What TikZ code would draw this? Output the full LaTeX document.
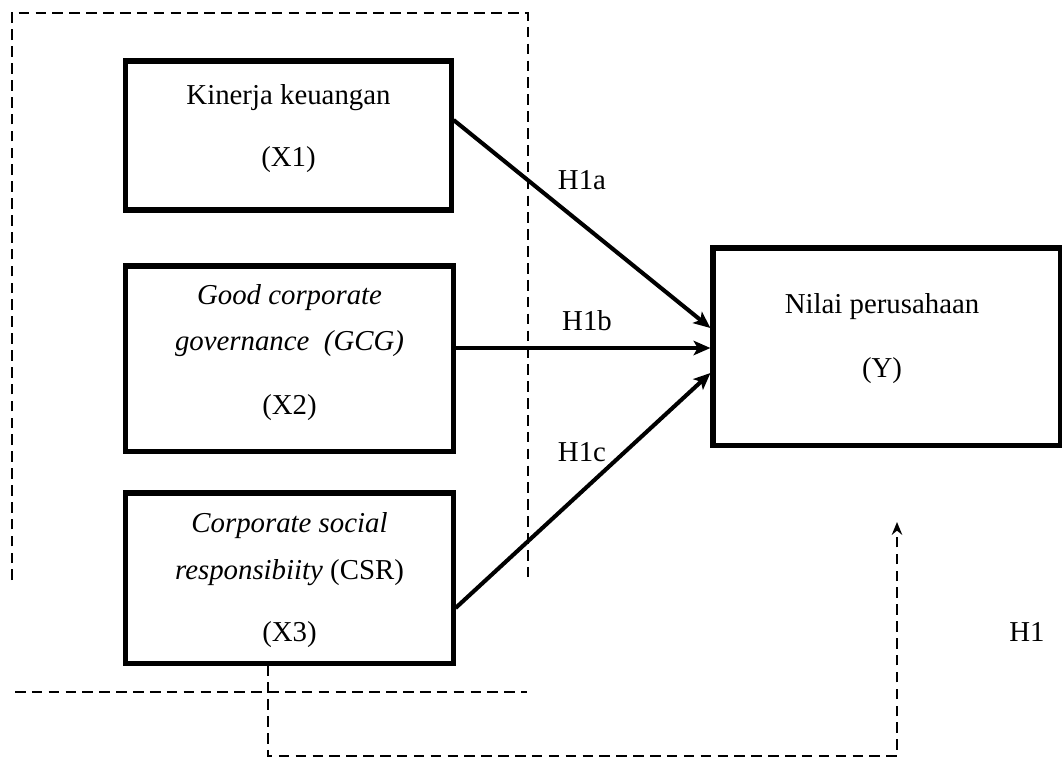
\documentclass[tikz,border=0pt]{standalone}
\usepackage{fontspec}
\setmainfont{Liberation Serif}
\usepackage{tikz}
\usetikzlibrary{arrows.meta}

\begin{document}
\begin{tikzpicture}[x=0.025cm, y=-0.025cm,
        varbox/.style={draw, line width=3.6pt, inner sep=0pt},
        txt/.style={font=\fontsize{20.5}{24}\selectfont, inner sep=0pt, anchor=base},
        hyp/.style={-{Stealth[length=0.42cm, width=0.36cm, inset=0.1cm]}, line width=2.9pt},
        dashline/.style={line width=1.7pt, dash pattern=on 7.5pt off 4.5pt}]
        \useasboundingbox (0, 0) rectangle (1062, 758);
        % Dashed frame
        \draw [dashline] (12, 580) -- (12, 13) -- (528, 13) -- (528, 580);
        \draw [dashline] (15, 692) -- (527, 692);
        % Boxes
        \node [varbox, minimum width=8.125cm, minimum height=3.725cm] (x1) at (288.5, 135.5) {};
        \node [varbox, minimum width=8.175cm, minimum height=4.625cm] (x2) at (289.5, 358.5) {};
        \node [varbox, minimum width=8.175cm, minimum height=4.25cm] (x3) at (289.5, 578) {};
        \node [varbox, minimum width=8.675cm, minimum height=4.925cm] (y) at (886.5, 346.5) {};
        % Texts
        \node [txt] (x1name) at (288.5, 104) {Kinerja keuangan};
        \node [txt] (x1code) at (288.5, 166) {(X1)};
        \node [txt] (x2name) at (289.5, 304) {\textit{Good corporate}};
        \node [txt] (x2sub) at (289.5, 350) {\textit{governance\ \ (GCG)}};
        \node [txt] (x2code) at (289.5, 414) {(X2)};
        \node [txt] (x3name) at (289.5, 532) {\textit{Corporate social}};
        \node [txt] (x3sub) at (289.5, 579) {\textit{responsibiity} (CSR)};
        \node [txt] (x3code) at (289.5, 641) {(X3)};
        \node [txt] (yname) at (882, 313) {Nilai perusahaan};
        \node [txt] (ycode) at (882, 377) {(Y)};
        % Arrows
        \draw [hyp] (x1.east |- 0, 120) -- (y.west |- 0, 328);
        \draw [hyp] (x2.east |- 0, 348) -- (y.west |- 0, 348);
        \draw [hyp] (x3.east |- 0, 608) -- (y.west |- 0, 373);
        \node [txt] (h1a) at (582, 189) {H1a};
        \node [txt] (h1b) at (587, 330) {H1b};
        \node [txt] (h1c) at (582, 461) {H1c};
        % Simultaneous path
        \coordinate (h1tip) at (897, 522);
        \draw [dashline, -{Stealth[length=0.32cm, width=0.26cm]}] (x3.south -| 268, 0) |- (h1tip |- 0, 756) -- (h1tip);
        \node [txt] (h1) at (1027, 641) {H1};
\end{tikzpicture}
\end{document}
